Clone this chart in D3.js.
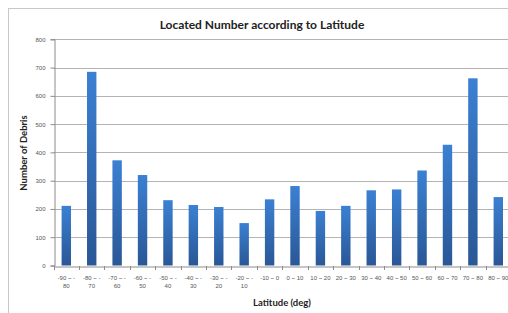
<!DOCTYPE html>
<html><head><meta charset="utf-8">
<script src="https://cdn.jsdelivr.net/npm/d3@7"></script>
<style>
html,body{margin:0;padding:0;background:#fff;}
svg{display:block;}
</style></head>
<body>
<svg id="c" width="508" height="313"></svg>
<script>
const categories = ["-90~-80","-80~-70","-70~-60","-60~-50","-50~-40","-40~-30","-30~-20","-20~-10","-10~0","0~10","10~20","20~30","30~40","40~50","50~60","60~70","70~80","80~90"];
const tickLabels = [["-90 ~ -","80"],["-80 ~ -","70"],["-70 ~ -","60"],["-60 ~ -","50"],["-50 ~ -","40"],["-40 ~ -","30"],["-30 ~ -","20"],["-20 ~ -","10"],["-10 ~ 0"],["0 ~ 10"],["10 ~ 20"],["20 ~ 30"],["30 ~ 40"],["40 ~ 50"],["50 ~ 60"],["60 ~ 70"],["70 ~ 80"],["80 ~ 90"]];
const values = [211,685,372,320,231,214,207,150,234,281,193,211,266,269,336,427,662,242];
const yTicks = [0,100,200,300,400,500,600,700,800];
const title = "Located Number according to Latitude";
const yTitle = "Number of Debris";
const xTitle = "Latitude (deg)";

(function(){
const svg = d3.select("#c");
const mLeft = 53.6, mRight = 511, mTop = 39.3, mBottom = 265.5;
const titleFont = "Lato, 'Open Sans', sans-serif";

svg.append("rect").attr("x",8.5).attr("y",8.5).attr("width",520).attr("height",400)
  .attr("fill","none").attr("stroke","#c8c8c8").attr("stroke-width",1);

const defs = svg.append("defs");
const grad = defs.append("linearGradient").attr("id","bg").attr("x1",0).attr("y1",0).attr("x2",0).attr("y2",1);
grad.append("stop").attr("offset","0%").attr("stop-color","#3b80d3");
grad.append("stop").attr("offset","100%").attr("stop-color","#2a5796");

const x = d3.scaleBand().domain(categories).range([mLeft,mRight]).paddingInner(0.63).paddingOuter(0.315);
const y = d3.scaleLinear().domain([0,800]).range([mBottom,mTop]);

svg.append("g").selectAll("line").data(yTicks.filter(d=>d>0)).join("line")
  .attr("x1",mLeft).attr("x2",mRight)
  .attr("y1",d=>Math.round(y(d))+0.5).attr("y2",d=>Math.round(y(d))+0.5)
  .attr("stroke","#b4b4b4").attr("stroke-width",1);

const ya = svg.append("g").attr("transform",`translate(${Math.round(mLeft)+0.5},0)`)
  .call(d3.axisLeft(y).tickValues(yTicks).tickSize(4).tickPadding(5).tickFormat(d3.format("d")));
ya.select(".domain").attr("stroke","#8c8c8c");
ya.selectAll(".tick line").attr("stroke","#8c8c8c");
ya.selectAll("text").attr("font-family","Liberation Sans, Arial, sans-serif").attr("font-size",6).attr("fill","#555");

svg.append("g").selectAll("rect").data(values).join("rect")
  .attr("x",(d,i)=>x(categories[i]))
  .attr("width",x.bandwidth())
  .attr("y",d=>y(d))
  .attr("height",d=>y(0)-y(d))
  .attr("fill","url(#bg)");

const xa = svg.append("g").attr("transform",`translate(0,${Math.round(mBottom)+0.5})`)
  .call(d3.axisBottom(x).tickSize(0).tickFormat(""));
xa.select(".domain").attr("stroke","#8c8c8c");
const step = x.step();
svg.append("g").selectAll("line").data(d3.range(categories.length+1)).join("line")
  .attr("x1",i=>Math.round(mLeft+i*step)+0.5).attr("x2",i=>Math.round(mLeft+i*step)+0.5)
  .attr("y1",Math.round(mBottom)).attr("y2",Math.round(mBottom)+4)
  .attr("stroke","#8c8c8c");

const lbl = svg.append("g").selectAll("text").data(tickLabels).join("text")
  .attr("font-family","Liberation Sans, Arial, sans-serif").attr("font-size",6).attr("fill","#555")
  .attr("text-anchor","middle");
lbl.each(function(lines,i){
  const t = d3.select(this);
  const cx = x(categories[i]) + x.bandwidth()/2;
  lines.forEach((s,k)=>{
    t.append("tspan").attr("x",cx).attr("y",279.5+k*8).text(s);
  });
});

svg.append("text").attr("x",262).attr("y",29).attr("text-anchor","middle")
  .attr("font-family",titleFont).attr("font-weight","bold").attr("font-size",12).attr("fill","#222")
  .text(title);
svg.append("text").attr("transform","translate(27,153) rotate(-90)").attr("text-anchor","middle")
  .attr("font-family",titleFont).attr("font-weight","bold").attr("font-size",9.5).attr("fill","#222")
  .text(yTitle);
svg.append("text").attr("x",282).attr("y",306).attr("text-anchor","middle")
  .attr("font-family",titleFont).attr("font-weight","bold").attr("font-size",9.5).attr("fill","#222")
  .text(xTitle);
})();
</script>
</body></html>
